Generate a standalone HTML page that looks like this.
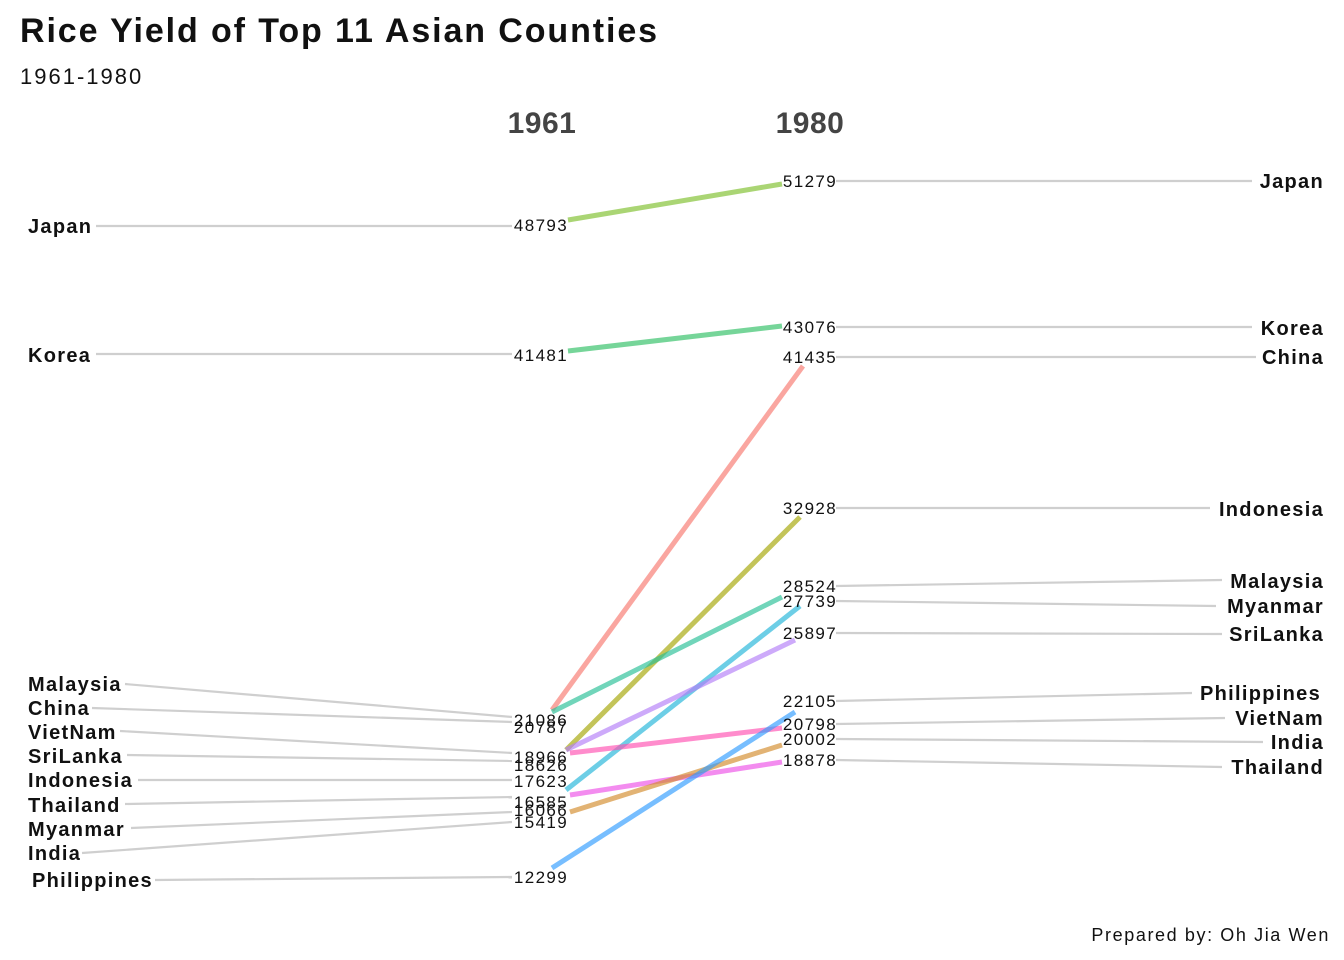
<!DOCTYPE html>
<html><head><style>body{margin:0;background:#fff}svg{display:block}</style></head><body>
<svg width="1344" height="960" xmlns="http://www.w3.org/2000/svg" font-family="Liberation Sans, Arial, sans-serif">
<rect width="1344" height="960" fill="#fff"/>
<text x="20" y="42" font-size="34" letter-spacing="1.9" font-weight="bold" fill="#111">Rice Yield of Top 11 Asian Counties</text>
<text x="20" y="84" font-size="22" letter-spacing="2" fill="#111">1961-1980</text>
<text x="542" y="133" font-size="30" letter-spacing="0.5" font-weight="bold" fill="#444" text-anchor="middle">1961</text>
<text x="810" y="133" font-size="30" letter-spacing="0.5" font-weight="bold" fill="#444" text-anchor="middle">1980</text>
<g stroke="#cfcfcf" stroke-width="2.2" fill="none">
<line x1="96" y1="226" x2="512" y2="226"/>
<line x1="96" y1="354" x2="512" y2="354"/>
<line x1="125" y1="684" x2="512" y2="717"/>
<line x1="92" y1="708" x2="512" y2="722"/>
<line x1="120" y1="731" x2="512" y2="753"/>
<line x1="127" y1="755" x2="512" y2="761"/>
<line x1="138" y1="780" x2="512" y2="780"/>
<line x1="125" y1="804" x2="512" y2="797"/>
<line x1="131" y1="828" x2="512" y2="812"/>
<line x1="82" y1="853" x2="512" y2="822"/>
<line x1="155" y1="880" x2="512" y2="877"/>
<line x1="836" y1="181" x2="1252" y2="181"/>
<line x1="836" y1="327" x2="1252" y2="327"/>
<line x1="836" y1="357" x2="1256" y2="357"/>
<line x1="836" y1="508" x2="1210" y2="508"/>
<line x1="836" y1="586" x2="1222" y2="580"/>
<line x1="836" y1="601" x2="1216" y2="606"/>
<line x1="836" y1="633" x2="1222" y2="634"/>
<line x1="836" y1="701" x2="1192" y2="693"/>
<line x1="836" y1="724" x2="1225" y2="718"/>
<line x1="836" y1="739" x2="1263" y2="742"/>
<line x1="836" y1="760" x2="1222" y2="767"/>
</g>
<g stroke-width="5" stroke-opacity="0.65" fill="none">
<line x1="568" y1="220" x2="782" y2="184" stroke="#7CBF2A"/>
<line x1="568" y1="351" x2="782" y2="326" stroke="#2CBF62"/>
<line x1="552" y1="710" x2="803" y2="366" stroke="#F8766D"/>
<line x1="566" y1="750" x2="800" y2="517" stroke="#A3A500"/>
<line x1="552" y1="712" x2="782" y2="597" stroke="#25BE95"/>
<line x1="566" y1="790" x2="800" y2="606" stroke="#1FB4D8"/>
<line x1="566" y1="750" x2="795" y2="640" stroke="#B27DF8"/>
<line x1="570" y1="753" x2="782" y2="728" stroke="#FF4FB0"/>
<line x1="570" y1="795" x2="782" y2="762" stroke="#EC4FE6"/>
<line x1="570" y1="812" x2="782" y2="745" stroke="#D28A2A"/>
<line x1="552" y1="868" x2="795" y2="712" stroke="#2E9BFF"/>
</g>
<g font-size="20" letter-spacing="1.3" font-weight="bold" fill="#111">
<text x="28" y="233">Japan</text>
<text x="28" y="362">Korea</text>
<text x="28" y="691">Malaysia</text>
<text x="28" y="715">China</text>
<text x="28" y="739">VietNam</text>
<text x="28" y="763">SriLanka</text>
<text x="28" y="787">Indonesia</text>
<text x="28" y="812">Thailand</text>
<text x="28" y="836">Myanmar</text>
<text x="28" y="860">India</text>
<text x="32" y="887">Philippines</text>
</g>
<g font-size="20" letter-spacing="1.3" font-weight="bold" fill="#111" text-anchor="end">
<text x="1324" y="188">Japan</text>
<text x="1324" y="335">Korea</text>
<text x="1324" y="364">China</text>
<text x="1324" y="516">Indonesia</text>
<text x="1324" y="588">Malaysia</text>
<text x="1324" y="613">Myanmar</text>
<text x="1324" y="641">SriLanka</text>
<text x="1321" y="700">Philippines</text>
<text x="1324" y="725">VietNam</text>
<text x="1324" y="749">India</text>
<text x="1324" y="774">Thailand</text>
</g>
<g font-size="17" letter-spacing="1.4" fill="#111" text-anchor="middle">
<text x="541" y="231">48793</text>
<text x="541" y="361">41481</text>
<text x="541" y="733">20787</text>
<text x="541" y="726">21086</text>
<text x="541" y="771">18626</text>
<text x="541" y="763">18966</text>
<text x="541" y="787">17623</text>
<text x="541" y="828">15419</text>
<text x="541" y="816">16066</text>
<text x="541" y="808">16585</text>
<text x="541" y="883">12299</text>
<text x="810" y="187">51279</text>
<text x="810" y="333">43076</text>
<text x="810" y="363">41435</text>
<text x="810" y="514">32928</text>
<text x="810" y="592">28524</text>
<text x="810" y="607">27739</text>
<text x="810" y="639">25897</text>
<text x="810" y="707">22105</text>
<text x="810" y="730">20798</text>
<text x="810" y="745">20002</text>
<text x="810" y="766">18878</text>
</g>
<text x="1330" y="941" font-size="18" letter-spacing="1.6" fill="#111" text-anchor="end">Prepared by: Oh Jia Wen</text>
</svg>
</body></html>
